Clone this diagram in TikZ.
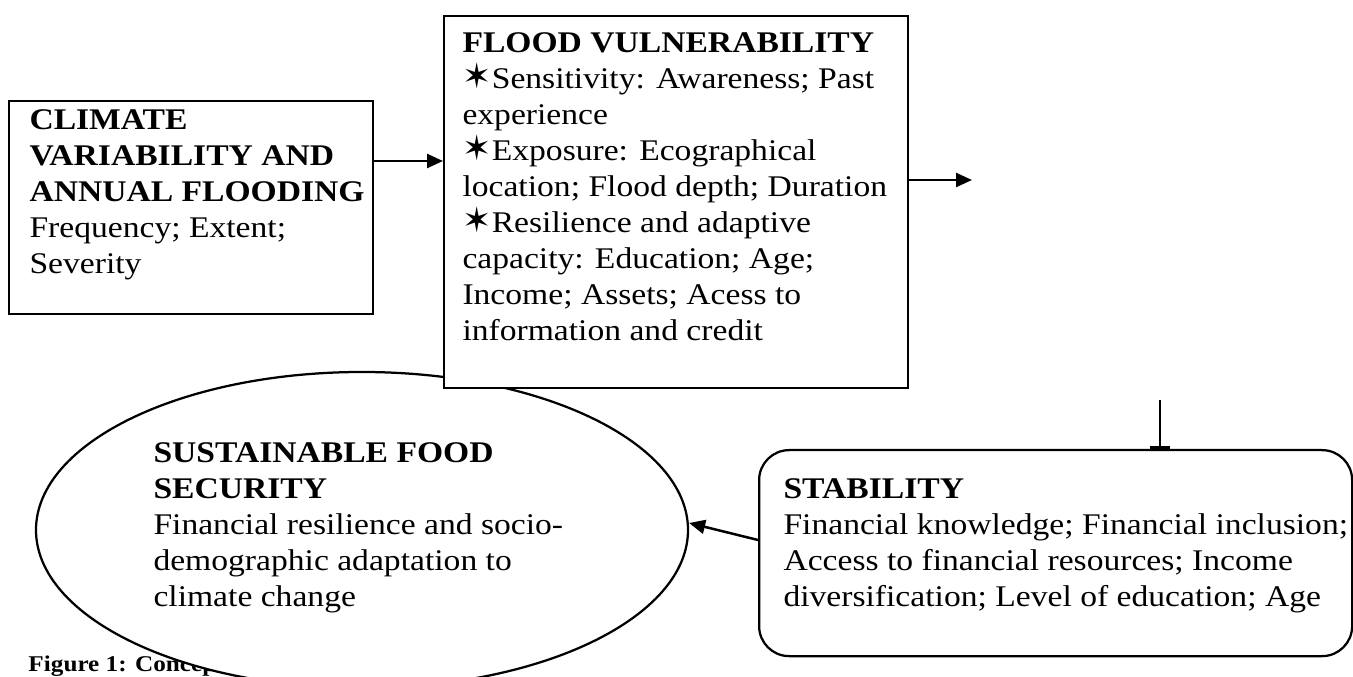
\documentclass[tikz,border=0pt]{standalone}
\usepackage{fontspec}
\setmainfont{Liberation Serif}[FakeStretch=1.12]
\newfontfamily\starfont{DejaVu Sans}
\usetikzlibrary{shapes.geometric,arrows.meta}
\newcommand{\bstar}{{\starfont\fontsize{14}{14}\selectfont ✶}}

\begin{document}
\begin{tikzpicture}[x=0.4pt,y=-0.4pt,
    box/.style={draw,line width=0.9pt,fill=white,inner sep=0pt,anchor=north west},
    txt/.style={anchor=north west,inner sep=0pt,align=left,font=\fontsize{12}{14.4}\selectfont},
    arr/.style={line width=1pt,-{Triangle[length=6.4pt,width=5.6pt]}}]
  \useasboundingbox (0,0) rectangle (1353,677);

  % caption, partly covered by the ellipse
  \node[anchor=base west,inner sep=0pt,font=\bfseries\fontsize{9}{9}\selectfont] (caption) at (28,672) {Figure 1: Conceptual};

  % outcome ellipse
  \node[ellipse,draw,line width=0.9pt,fill=white,inner sep=0pt,
        minimum width=260.8pt,minimum height=126.4pt] (food) at (362,530) {};
  \node[txt] (foodtxt) at (153,442) {\textbf{SUSTAINABLE FOOD}\\
    \textbf{SECURITY}\\
    Financial resilience and socio-\\
    demographic adaptation to\\
    climate change};

  % boxes
  \node[box,minimum width=145.6pt,minimum height=85.2pt] (climate) at (8,100) {};
  \node[txt] (climatetxt) at (29,109) {\textbf{CLIMATE}\\
    \textbf{VARIABILITY AND}\\
    \textbf{ANNUAL FLOODING}\\
    Frequency; Extent;\\
    Severity};

  \node[box,minimum width=185.6pt,minimum height=148.8pt] (vuln) at (443,15) {};
  \node[txt] (vulntxt) at (462,32) {\textbf{FLOOD VULNERABILITY}\\
    \bstar Sensitivity: Awareness; Past\\
    experience\\
    \bstar Exposure: Ecographical\\
    location; Flood depth; Duration\\
    \bstar Resilience and adaptive\\
    capacity: Education; Age;\\
    Income; Assets; Acess to\\
    information and credit};

  \node[box,rounded corners=12pt,minimum width=237.2pt,minimum height=82.4pt] (stab) at (758,449) {};
  \node[txt] (stabtxt) at (783,478) {\textbf{STABILITY}\\
    Financial knowledge; Financial inclusion;\\
    Access to financial resources; Income\\
    diversification; Level of education; Age};

  % connectors
  \coordinate (out) at (972,180);
  \coordinate (drop) at (1160,400);
  \draw[arr] (climate.east |- 0,161) -- (vuln.west |- 0,161);
  \draw[arr] (vuln.east |- out) -- (out);
  \draw[line width=1pt,-{Bar[width=8pt]}] (drop) -- (drop |- stab.north);
  \draw[arr] (stab.west |- 0,540) -- ([yshift=2.8pt]food.east);
\end{tikzpicture}
\end{document}
